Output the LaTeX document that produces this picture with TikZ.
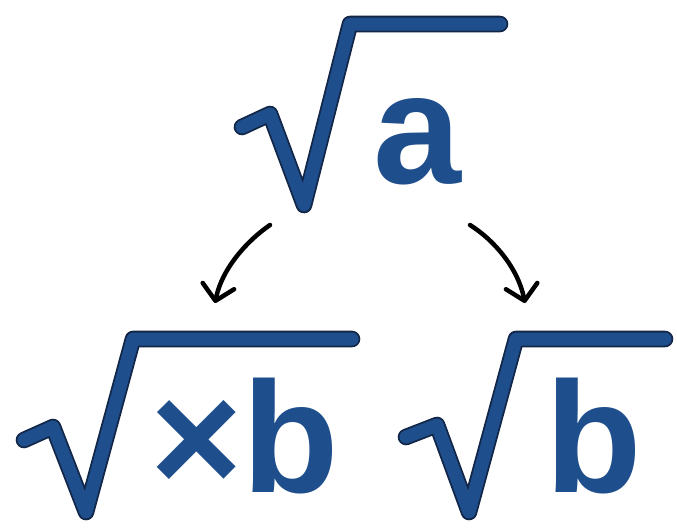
\documentclass[tikz,border=0pt]{standalone}
\usepackage{fontspec}
\setmainfont{Liberation Sans}
\usetikzlibrary{arrows.meta}
\definecolor{rootblue}{RGB}{31,78,140}
\definecolor{rootedge}{RGB}{18,38,72}
\begin{document}
\begin{tikzpicture}[x=1pt,y=-1pt,
	rootsign/.style={draw=rootedge, line width=1.8pt, double=rootblue, double distance=13pt, line join=round, line cap=round},
	expr/.style={text=rootblue, font=\fontsize{158}{158}\selectfont\bfseries, inner sep=0pt, anchor=base west},
	branch/.style={line width=4.5pt, line cap=round, -{Straight Barb[length=15pt, width=32pt, round]}}]
	\useasboundingbox (0,0) rectangle (677,531);

	% radical signs
	\draw[rootsign] (242,127) -- (270,114) -- (304,205) -- (350,24) -- (500,24);
	\draw[rootsign] (24,440) -- (53,427) -- (86,512) -- (133,339) -- (352,339);
	\draw[rootsign] (406,437) -- (437,425) -- (469,512) -- (516,339) -- (665,339);

	\node[expr] (rootA) at (373,183) {a};
	\node[expr] (rootXB) at (150,492) {×b};
	\node[expr] (rootB) at (545,492) {b};

	\coordinate (leftFrom) at (270,225);
	\coordinate (leftTo) at (215,303);
	\coordinate (rightFrom) at (470,225);
	\coordinate (rightTo) at (525,303);

	\draw[branch] (leftFrom) .. controls (248,240) and (222,268) .. (leftTo);
	\draw[branch] (rightFrom) .. controls (494,240) and (518,268) .. (rightTo);
\end{tikzpicture}
\end{document}
